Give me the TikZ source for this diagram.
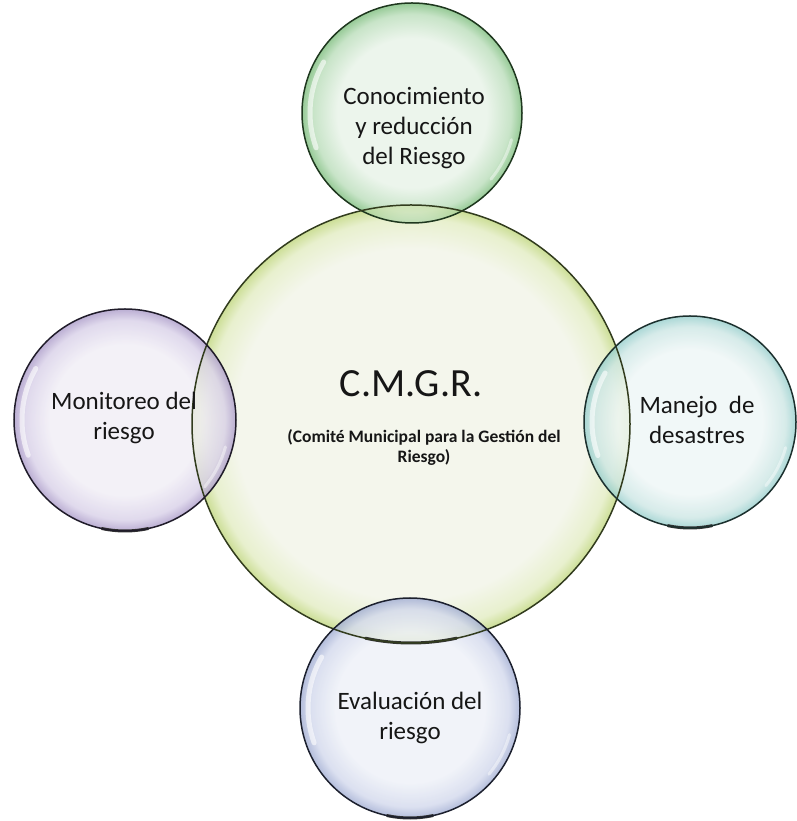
\documentclass[tikz,border=0pt]{standalone}
\usepackage{fontspec}
\setmainfont{Carlito}
\definecolor{txt}{RGB}{22,22,22}
% central
\definecolor{cC}{RGB}{244,246,236}\definecolor{cCr}{RGB}{232,240,206}\definecolor{cCe}{RGB}{204,222,150}\definecolor{oC}{RGB}{50,60,30}
% top
\definecolor{cT}{RGB}{236,245,236}\definecolor{cTr}{RGB}{200,228,200}\definecolor{cTe}{RGB}{150,202,150}\definecolor{oT}{RGB}{30,55,30}
% left
\definecolor{cL}{RGB}{240,237,245}\definecolor{cLr}{RGB}{216,208,232}\definecolor{cLe}{RGB}{170,154,200}\definecolor{oL}{RGB}{32,28,42}
% right
\definecolor{cR}{RGB}{238,246,246}\definecolor{cRr}{RGB}{204,230,228}\definecolor{cRe}{RGB}{150,206,204}\definecolor{oR}{RGB}{28,48,46}
% bottom
\definecolor{cB}{RGB}{237,240,247}\definecolor{cBr}{RGB}{210,216,236}\definecolor{cBe}{RGB}{160,172,210}\definecolor{oB}{RGB}{28,32,46}
\pgfdeclareradialshading{shC}{\pgfpoint{0bp}{0bp}}{color(0bp)=(cC); color(20bp)=(cC); color(23.5bp)=(cCr); color(25bp)=(cCe); color(50bp)=(cCe)}
\pgfdeclareradialshading{shT}{\pgfpoint{0bp}{0bp}}{color(0bp)=(cT); color(17bp)=(cT); color(22.5bp)=(cTr); color(25bp)=(cTe); color(50bp)=(cTe)}
\pgfdeclareradialshading{shL}{\pgfpoint{0bp}{0bp}}{color(0bp)=(cL); color(17bp)=(cL); color(22.5bp)=(cLr); color(25bp)=(cLe); color(50bp)=(cLe)}
\pgfdeclareradialshading{shR}{\pgfpoint{0bp}{0bp}}{color(0bp)=(cR); color(17bp)=(cR); color(22.5bp)=(cRr); color(25bp)=(cRe); color(50bp)=(cRe)}
\pgfdeclareradialshading{shB}{\pgfpoint{0bp}{0bp}}{color(0bp)=(cB); color(17bp)=(cB); color(22.5bp)=(cBr); color(25bp)=(cBe); color(50bp)=(cBe)}
\tikzset{
  bubble/.style={circle, inner sep=0pt, outer sep=0pt},
  rim/.style={line width=1.5pt},
  shadowarc/.style={line width=3pt, line cap=round, black!80},
  gloss/.style={white, line width=5pt, opacity=0.6, line cap=round},
  lbl/.style={text=txt, align=center, font=\fontsize{25}{30}\selectfont},
}
\begin{document}
\begin{tikzpicture}[x=1pt,y=1pt]
\useasboundingbox (0,0) rectangle (796,821);
% bodies
\node[bubble, minimum size=220pt, shading=shT] (T) at (412,708) {};
\node[bubble, minimum size=438pt, shading=shC] (C) at (411,397) {};
\node[bubble, minimum size=222pt, shading=shL, fill opacity=0.8] (L) at (125,401) {};
\node[bubble, minimum size=212pt, shading=shR, fill opacity=0.8] (R) at (690,399) {};
\node[bubble, minimum size=220pt, shading=shB, fill opacity=0.8] (B) at (410,113) {};
% top overlap tint
\begin{scope}
  \clip (C.center) circle[radius=219pt];
  \node[bubble, minimum size=220pt, shading=shT, fill opacity=0.55] (T2) at (T.center) {};
\end{scope}
% gloss highlights
\foreach \n/\r in {T/110,L/111,R/106,B/110}{
  \draw[gloss] ([shift={(150:\r-8)}]\n.center) arc[start angle=150,end angle=200,radius=\r-8];
  \draw[gloss, line width=3pt, opacity=0.45] ([shift={(-40:\r-7)}]\n.center) arc[start angle=-40,end angle=-15,radius=\r-7];
}
% shadows
\foreach \n/\r in {C/219,L/111,R/106,B/110}{
  \draw[shadowarc] ([shift={(258:\r)}]\n.center) arc[start angle=258,end angle=282,radius=\r];
}
% outlines
\draw[rim, draw=oT] (T.center) circle[radius=110pt];
\draw[rim, draw=oC] (C.center) circle[radius=219pt];
\draw[rim, draw=oL] (L.center) circle[radius=111pt];
\draw[rim, draw=oR] (R.center) circle[radius=106pt];
\draw[rim, draw=oB] (B.center) circle[radius=110pt];
% texts
\node[lbl] (tT) at (414,693) {Conocimiento\\y reducción\\del Riesgo};
\node[lbl] (tL) at (124,403) {Monitoreo del\\riesgo};
\node[lbl] (tR) at (697,401) {Manejo\ \ de\\desastres};
\node[lbl] (tB) at (410,103) {Evaluación del\\riesgo};
\node[text=txt, font=\fontsize{40}{44}\selectfont] (tC) at (411,437) {C.M.G.R.};
\node[text=txt, align=center, font=\bfseries\fontsize{17.5}{20}\selectfont] (tS) at (424,374) {(Comité Municipal para la Gestión del\\Riesgo)};
\end{tikzpicture}
\end{document}
